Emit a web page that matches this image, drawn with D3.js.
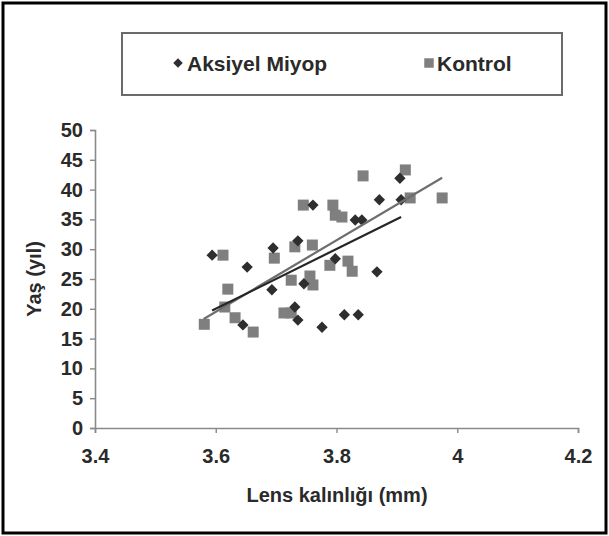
<!DOCTYPE html>
<html>
<head>
<meta charset="utf-8">
<script src="https://cdn.jsdelivr.net/npm/d3@7"></script>
<style>
  body { margin: 0; background: #fff; }
  svg { display: block; font-family: "Liberation Sans", Arial, sans-serif; }
</style>
</head>
<body>
<svg id="chart"></svg>
<script>
const width = 609;
const height = 536;

// tick labels
const xTicks = [3.4, 3.6, 3.8, 4, 4.2];
const yTicks = [0, 5, 10, 15, 20, 25, 30, 35, 40, 45, 50];

// Aksiyel Miyop (diamonds)
const miyopX = [3.594, 3.652, 3.695, 3.693, 3.645, 3.736, 3.761, 3.731, 3.736, 3.746,
                3.776, 3.798, 3.813, 3.836, 3.867, 3.831, 3.842, 3.871, 3.907, 3.905];
const miyopY = [29.0, 27.0, 30.2, 23.2, 17.3, 31.4, 37.4, 20.3, 18.1, 24.2,
                16.9, 28.4, 19.0, 19.0, 26.2, 34.9, 34.9, 38.3, 38.3, 41.9];

// Kontrol (squares)
const kontrolX = [3.581, 3.612, 3.620, 3.615, 3.632, 3.662, 3.697, 3.713, 3.725, 3.731,
                  3.745, 3.760, 3.725, 3.756, 3.761, 3.794, 3.798, 3.809, 3.789, 3.819,
                  3.826, 3.844, 3.914, 3.922, 3.975];
const kontrolY = [17.4, 29.0, 23.3, 20.3, 18.5, 16.1, 28.5, 19.3, 19.3, 30.4,
                  37.4, 30.7, 24.8, 25.5, 24.0, 37.4, 35.7, 35.4, 27.3, 28.0,
                  26.3, 42.3, 43.3, 38.6, 38.6];

// linear trend lines (end points)
const miyopTrend = [[3.594, 19.7], [3.907, 35.4]];
const kontrolTrend = [[3.580, 18.3], [3.975, 42.0]];

const svg = d3.select("#chart")
    .attr("width", width)
    .attr("height", height);

// outer frame
svg.append("rect")
    .attr("x", 3).attr("y", 3)
    .attr("width", 603).attr("height", 530)
    .attr("fill", "#fff")
    .attr("stroke", "#000")
    .attr("stroke-width", 3);

const x = d3.scaleLinear().domain([3.4, 4.2]).range([95, 578]);
const y = d3.scaleLinear().domain([0, 50]).range([428, 130]);

// axes
const yAxis = svg.append("g")
    .attr("transform", "translate(95,0)")
    .call(d3.axisLeft(y).tickValues(yTicks).tickSize(5).tickPadding(7).tickFormat(d => String(d)));

const xAxis = svg.append("g")
    .attr("transform", "translate(0,428)")
    .call(d3.axisBottom(x).tickValues(xTicks).tickSize(5).tickPadding(16).tickFormat(d => String(d)));

[xAxis, yAxis].forEach(ax => {
    ax.select(".domain").attr("stroke", "#8a8a8a").attr("stroke-width", 1.6);
    ax.selectAll(".tick line").attr("stroke", "#8a8a8a").attr("stroke-width", 1.4);
    ax.selectAll(".tick text")
        .attr("fill", "#2a2a2a")
        .style("font-size", "20px")
        .style("font-weight", "bold")
        .style("font-family", "'Liberation Sans', Arial, sans-serif");
});

// axis titles
svg.append("text")
    .attr("x", 337).attr("y", 502)
    .attr("text-anchor", "middle")
    .attr("fill", "#2a2a2a")
    .style("font-size", "20px")
    .style("font-weight", "bold")
    .text("Lens kalınlığı (mm)");

svg.append("text")
    .attr("transform", "translate(41,279) rotate(-90)")
    .attr("text-anchor", "middle")
    .attr("fill", "#2a2a2a")
    .style("font-size", "20px")
    .style("font-weight", "bold")
    .text("Yaş (yıl)");

const squareSym = d3.symbol().type(d3.symbolSquare).size(121);
const diamondSym = d3.symbol().type(d3.symbolSquare).size(64);

// Kontrol points
svg.append("g")
    .selectAll("path")
    .data(kontrolX.map((v, i) => [v, kontrolY[i]]))
    .enter().append("path")
    .attr("d", squareSym)
    .attr("transform", d => `translate(${x(d[0])},${y(d[1])})`)
    .attr("fill", "#7f7f7f");

// Aksiyel Miyop points
svg.append("g")
    .selectAll("path")
    .data(miyopX.map((v, i) => [v, miyopY[i]]))
    .enter().append("path")
    .attr("d", diamondSym)
    .attr("transform", d => `translate(${x(d[0])},${y(d[1])}) rotate(45)`)
    .attr("fill", "#2e2e2e");

// trend lines
const line = d3.line().x(d => x(d[0])).y(d => y(d[1]));

svg.append("path")
    .attr("d", line(kontrolTrend))
    .attr("fill", "none")
    .attr("stroke", "#6e6e6e")
    .attr("stroke-width", 2.2);

svg.append("path")
    .attr("d", line(miyopTrend))
    .attr("fill", "none")
    .attr("stroke", "#262626")
    .attr("stroke-width", 2.2);

// legend
const legend = svg.append("g");
legend.append("rect")
    .attr("x", 122).attr("y", 33)
    .attr("width", 440).attr("height", 62)
    .attr("fill", "#fff")
    .attr("stroke", "#6a6a6a")
    .attr("stroke-width", 2);

legend.append("path")
    .attr("d", d3.symbol().type(d3.symbolSquare).size(45))
    .attr("transform", "translate(178,63) rotate(45)")
    .attr("fill", "#2e2e2e");

legend.append("text")
    .attr("x", 187).attr("y", 71)
    .attr("fill", "#2a2a2a")
    .style("font-size", "21px")
    .style("font-weight", "bold")
    .text("Aksiyel Miyop");

legend.append("path")
    .attr("d", d3.symbol().type(d3.symbolSquare).size(90))
    .attr("transform", "translate(429,63)")
    .attr("fill", "#7f7f7f");

legend.append("text")
    .attr("x", 437).attr("y", 71)
    .attr("fill", "#2a2a2a")
    .style("font-size", "21px")
    .style("font-weight", "bold")
    .text("Kontrol");
</script>
</body>
</html>
